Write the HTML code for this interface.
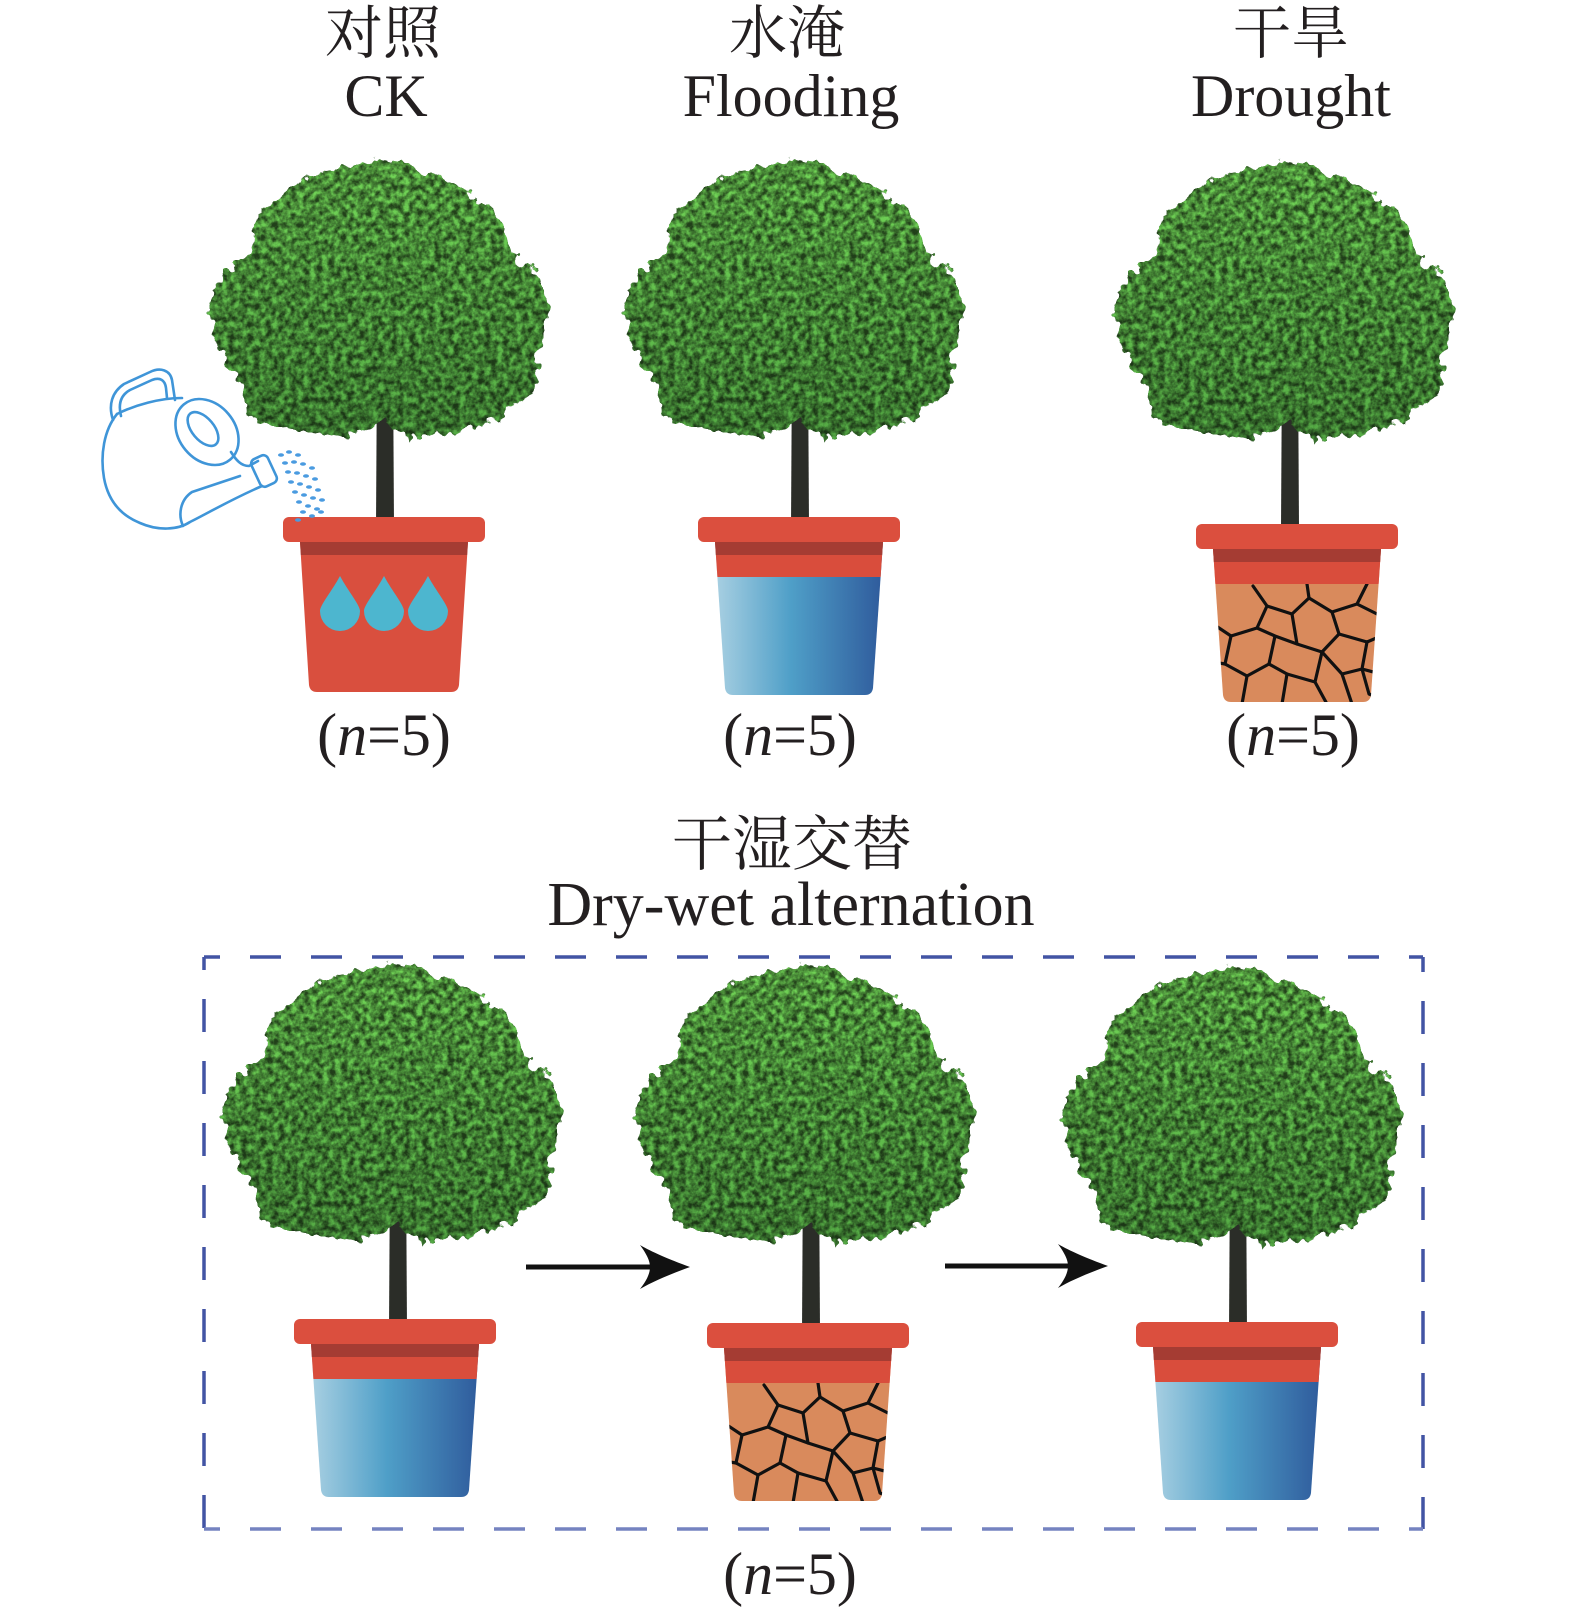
<!DOCTYPE html>
<html><head><meta charset="utf-8">
<style>
html,body{margin:0;padding:0;background:#fff;}
svg{display:block;}
.cn{font-family:"Liberation Serif","Noto Serif CJK SC","Noto Sans CJK SC",serif;fill:#231f20;}
.en{font-family:"Liberation Serif",serif;fill:#231f20;}
</style></head>
<body>
<svg width="1575" height="1615" viewBox="0 0 1575 1615" xmlns="http://www.w3.org/2000/svg">
<defs>
  <filter id="cf" x="-15%" y="-15%" width="130%" height="130%" color-interpolation-filters="sRGB">
    <feTurbulence type="fractalNoise" baseFrequency="0.09" numOctaves="2" seed="4" result="w"/>
    <feDisplacementMap in="SourceGraphic" in2="w" scale="18" xChannelSelector="R" yChannelSelector="G" result="s"/>
    <feTurbulence type="fractalNoise" baseFrequency="0.16" numOctaves="3" seed="9" result="t"/>
    <feColorMatrix in="t" type="matrix" values="2.0 0 0 0 -0.5  2.0 0 0 0 -0.5  2.0 0 0 0 -0.5  0 0 0 0 1" result="g"/>
    <feComposite in="s" in2="g" operator="arithmetic" k1="1" k2="0.45" k3="0" k4="0" result="c"/>
    <feComposite in="c" in2="s" operator="in"/>
  </filter>
  <linearGradient id="cg" x1="0" y1="0" x2="0" y2="1">
    <stop offset="0" stop-color="#4f943c"/>
    <stop offset="1" stop-color="#3a752f"/>
  </linearGradient>
  <linearGradient id="blue" x1="0" y1="0" x2="1" y2="0">
    <stop offset="0" stop-color="#a9d0e2"/>
    <stop offset="0.45" stop-color="#4f9fc8"/>
    <stop offset="1" stop-color="#2f5b9c"/>
  </linearGradient>
  <path id="pb" d="M-84,25 L84,25 L74,171 Q73,178 66,178 L-66,178 Q-73,178 -74,171 Z"/>
  <clipPath id="pc"><use href="#pb"/></clipPath>

  <g id="tree">
    <path d="M-8,200 L8,200 L9,366 L-9,366 Z" fill="#2b2d28"/>
    <g filter="url(#cf)">
      <path fill="url(#cg)" d="M-7,0 C13,2 25,6 33,12 C55,18 75,25 87,35 C100,45 112,55 117,67 C125,85 130,95 133,106 C143,108 150,110 153,114 C160,125 163,135 163,145 C164,155 163,165 162,173 C158,185 152,193 150,201 C155,210 155,218 153,224 C148,232 142,237 137,240 C125,250 112,258 100,264 C88,268 78,270 67,271 C50,274 38,278 27,279 C15,274 8,266 0,260 C-10,268 -20,274 -33,275 C-50,274 -68,273 -83,271 C-100,268 -120,265 -133,260 C-138,248 -140,236 -143,224 C-152,216 -158,206 -163,197 C-170,185 -175,170 -177,157 C-177,148 -176,140 -173,134 C-168,124 -160,114 -153,106 C-146,100 -140,95 -133,90 C-132,80 -131,68 -128,59 C-120,48 -110,40 -100,32 C-88,24 -75,17 -60,12 C-50,8 -42,5 -33,4 C-22,1 -15,0 -7,0 Z"/>
    </g>
  </g>

  <g id="band">
    <rect x="-90" y="25" width="180" height="35" fill="#d94d3c" clip-path="url(#pc)"/>
    <rect x="-90" y="25" width="180" height="13" fill="#a53c33" clip-path="url(#pc)"/>
    <rect x="-101" y="0" width="202" height="25" rx="6" fill="#db4f3e"/>
  </g>

  <g id="bluepot">
    <use href="#pb" fill="url(#blue)"/>
    <use href="#band"/>
  </g>

  <g id="soilpot">
    <use href="#pb" fill="#d98a5c"/>
    <g clip-path="url(#pc)" fill="none" stroke="#111" stroke-width="3.2" stroke-linejoin="round" stroke-linecap="round">
      <path d="M-84,100 L-66,112 L-40,104 L-30,82 L-44,62"/>
      <path d="M-30,82 L-5,90 L12,74 L10,60"/>
      <path d="M-5,90 L0,120 L25,128 L42,110 L35,88 L12,74"/>
      <path d="M35,88 L60,80 L70,60 M60,80 L84,92 M42,110 L70,118 L84,112"/>
      <path d="M-66,112 L-72,140 L-50,152 L-28,140 L-22,112 L-40,104 M-22,112 L0,120"/>
      <path d="M-28,140 L-10,150 L18,158 L25,128 M18,158 L30,180"/>
      <path d="M70,118 L65,145 L45,150 L25,128 M65,145 L84,150 M45,150 L55,180"/>
      <path d="M-50,152 L-55,180 M-72,140 L-84,138 M-10,150 L-15,180 M65,145 L72,170 L84,175"/>
    </g>
    <use href="#band"/>
  </g>

  <path id="drop" d="M0,-35 C8,-20 20,-6 20,0 A20,20 0 1 1 -20,0 C-20,-6 -8,-20 0,-35 Z" fill="#4db6cf"/>
</defs>

<rect width="1575" height="1615" fill="#fff"/>

<!-- Titles -->
<text class="cn" x="383" y="53" font-size="58" text-anchor="middle">对照</text>
<text class="en" x="386" y="116" font-size="60" text-anchor="middle">CK</text>
<text class="cn" x="787" y="53" font-size="58" text-anchor="middle">水淹</text>
<text class="en" x="791" y="116" font-size="60" text-anchor="middle">Flooding</text>
<text class="cn" x="1291" y="53" font-size="58" text-anchor="middle">干旱</text>
<text class="en" x="1291" y="116" font-size="60" text-anchor="middle">Drought</text>

<!-- Top row trees -->
<use href="#tree" transform="translate(385,160)"/>
<use href="#tree" transform="translate(800,160)"/>
<use href="#tree" transform="translate(1290,162)"/>

<!-- CK pot -->
<g transform="translate(384,517)">
  <path d="M-84,25 L84,25 L75,168 Q74,175 67,175 L-67,175 Q-74,175 -75,168 Z" fill="#d94f3e"/>
  <rect x="-90" y="25" width="180" height="13" fill="#a53c33" clip-path="url(#pc)"/>
  <rect x="-101" y="0" width="202" height="25" rx="6" fill="#db4f3e"/>
  <use href="#drop" transform="translate(-44,94)"/>
  <use href="#drop" transform="translate(0,94)"/>
  <use href="#drop" transform="translate(44,94)"/>
</g>
<use href="#bluepot" transform="translate(799,517)"/>
<use href="#soilpot" transform="translate(1297,524)"/>

<!-- Watering can -->
<g fill="none" stroke="#3f95d8" stroke-width="2.6" stroke-linecap="round" stroke-linejoin="round">
  <path d="M117,414 C104,430 100,455 104,478 C108,500 120,515 140,523 C158,531 178,530 190,522 C210,512 230,500 262,486"/>
  <path d="M117,414 C135,405 160,398 182,398"/>
  <ellipse cx="207" cy="432" rx="28" ry="36" transform="rotate(-40 207 432)"/>
  <ellipse cx="203" cy="429" rx="11" ry="20" transform="rotate(-40 203 429)"/>
  <path d="M231,452 C236,460 241,466 249,466 L258,461"/>
  <path d="M183,526 C178,515 180,500 192,492 L240,476"/>
  <rect x="255" y="456" width="18" height="30" rx="5" transform="rotate(-25 264 471)"/>
  <path d="M113,420 C108,405 112,392 124,384 L150,372 C160,367 170,370 172,380 L175,400"/>
  <path d="M121,416 C118,404 121,395 130,390 L152,380 C160,377 165,380 166,388 L167,398"/>
</g>
<g fill="#4a9be0">
  <ellipse cx="281" cy="455" rx="3" ry="1.8"/><ellipse cx="289" cy="452" rx="3" ry="1.8"/><ellipse cx="298" cy="455" rx="3" ry="1.8"/>
  <ellipse cx="285" cy="463" rx="3" ry="1.8"/><ellipse cx="294" cy="462" rx="3" ry="1.8"/><ellipse cx="303" cy="464" rx="3" ry="1.8"/>
  <ellipse cx="312" cy="468" rx="3" ry="1.8"/><ellipse cx="288" cy="472" rx="3" ry="1.8"/><ellipse cx="297" cy="473" rx="3" ry="1.8"/>
  <ellipse cx="306" cy="476" rx="3" ry="1.8"/><ellipse cx="315" cy="479" rx="3" ry="1.8"/><ellipse cx="291" cy="482" rx="3" ry="1.8"/>
  <ellipse cx="300" cy="484" rx="3" ry="1.8"/><ellipse cx="309" cy="487" rx="3" ry="1.8"/><ellipse cx="318" cy="490" rx="3" ry="1.8"/>
  <ellipse cx="295" cy="492" rx="3" ry="1.8"/><ellipse cx="304" cy="495" rx="3" ry="1.8"/><ellipse cx="313" cy="498" rx="3" ry="1.8"/>
  <ellipse cx="322" cy="500" rx="3" ry="1.8"/><ellipse cx="299" cy="502" rx="3" ry="1.8"/><ellipse cx="308" cy="506" rx="3" ry="1.8"/>
  <ellipse cx="317" cy="509" rx="3" ry="1.8"/><ellipse cx="303" cy="512" rx="3" ry="1.8"/><ellipse cx="312" cy="516" rx="3" ry="1.8"/>
  <ellipse cx="298" cy="520" rx="3" ry="1.8"/><ellipse cx="321" cy="512" rx="3" ry="1.8"/>
</g>

<!-- n labels top -->
<text class="en" x="384" y="755" font-size="60" text-anchor="middle">(<tspan font-style="italic">n</tspan>=5)</text>
<text class="en" x="790" y="755" font-size="60" text-anchor="middle">(<tspan font-style="italic">n</tspan>=5)</text>
<text class="en" x="1293" y="755" font-size="60" text-anchor="middle">(<tspan font-style="italic">n</tspan>=5)</text>

<!-- Dry-wet title -->
<text class="cn" x="792" y="865" font-size="60" text-anchor="middle">干湿交替</text>
<text class="en" x="791" y="925" font-size="62" text-anchor="middle">Dry-wet alternation</text>

<!-- Dashed box -->
<g stroke="#4254a4" stroke-width="3.5" fill="none">
  <line x1="204" y1="957" x2="1423" y2="957" stroke-dasharray="31 30" stroke-dashoffset="15"/>
  <line x1="204" y1="957" x2="204" y2="1529" stroke-dasharray="33 29" stroke-dashoffset="20"/>
  <line x1="1423" y1="957" x2="1423" y2="1529" stroke-dasharray="33 29" stroke-dashoffset="18"/>
  <line x1="204" y1="1529" x2="1423" y2="1529" stroke-dasharray="31 30" stroke-dashoffset="15" stroke="#7583c0"/>
</g>

<!-- Bottom row -->
<use href="#tree" transform="translate(398,964)"/>
<use href="#tree" transform="translate(811,965)"/>
<use href="#tree" transform="translate(1238,967)"/>
<use href="#bluepot" transform="translate(395,1319)"/>
<use href="#soilpot" transform="translate(808,1323)"/>
<use href="#bluepot" transform="translate(1237,1322)"/>

<!-- Arrows -->
<line x1="526" y1="1267" x2="656" y2="1267" stroke="#111" stroke-width="5"/>
<path d="M690,1267 C668,1259 652,1252 640,1245 C648,1256 650,1262 650,1267 C650,1272 648,1279 640,1289 C652,1282 668,1275 690,1267 Z" fill="#111"/>
<line x1="945" y1="1266" x2="1074" y2="1266" stroke="#111" stroke-width="5"/>
<path d="M1108,1266 C1086,1258 1070,1251 1058,1244 C1066,1255 1068,1261 1068,1266 C1068,1271 1066,1278 1058,1288 C1070,1281 1086,1274 1108,1266 Z" fill="#111"/>

<text class="en" x="790" y="1594" font-size="60" text-anchor="middle">(<tspan font-style="italic">n</tspan>=5)</text>
</svg>
</body></html>
